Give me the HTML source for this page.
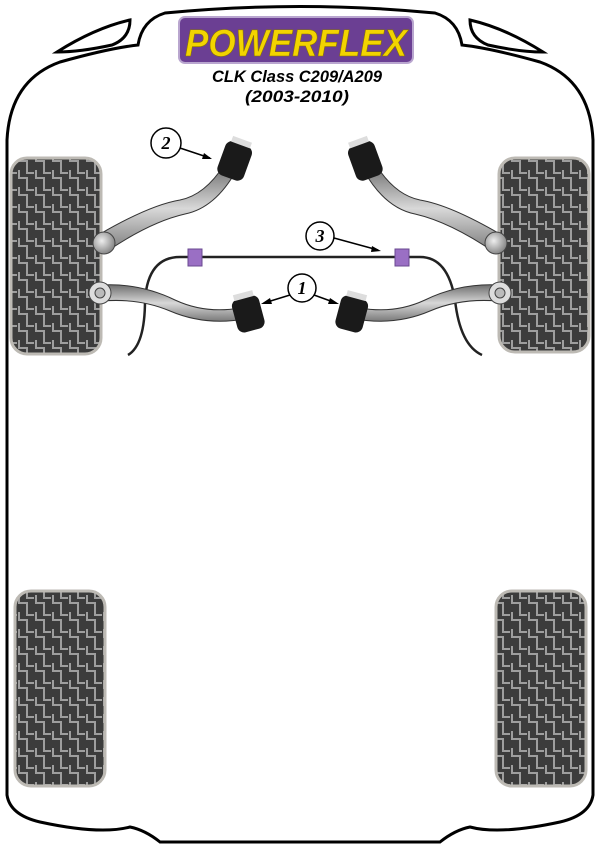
<!DOCTYPE html>
<html><head><meta charset="utf-8"><style>
html,body{margin:0;padding:0;background:#fff;}
svg{display:block;}
</style></head><body>
<svg width="600" height="848" viewBox="0 0 600 848" xmlns="http://www.w3.org/2000/svg">
<defs>
<pattern id="tr" width="17" height="17" patternUnits="userSpaceOnUse">
<rect width="17" height="17" fill="#3c3c3c"/>
<path d="M2,0 V8 H10 V17 M10,0 V3 H17" stroke="#9e9e9e" stroke-width="2" fill="none"/>
</pattern>
<linearGradient id="arm" x1="0" y1="0" x2="0" y2="1">
<stop offset="0" stop-color="#6e6e6e"/><stop offset="0.5" stop-color="#d8d8d8"/><stop offset="1" stop-color="#7a7a7a"/>
</linearGradient>
<radialGradient id="ball" cx="0.4" cy="0.4" r="0.7">
<stop offset="0" stop-color="#eee"/><stop offset="1" stop-color="#777"/>
</radialGradient>
</defs>

<!-- body -->
<path d="M7,795 L7,140 Q10,80 60,62 Q110,48 138,45 Q142,20 165,13 Q300,0 435,13 Q458,20 462,45 Q490,48 540,62 Q590,80 593,140 L593,795 Q590,815 560,822 Q500,835 470,827 Q455,830 440,842 L160,842 Q145,830 130,827 Q100,835 40,822 Q10,815 7,795 Z" fill="#fff" stroke="#000" stroke-width="3"/>
<path d="M57,52 Q95,28 130,20 Q130,38 112,45 Q80,52 57,52 Z" fill="#fff" stroke="#000" stroke-width="3"/>
<path d="M543,52 Q505,28 470,20 Q470,38 488,45 Q520,52 543,52 Z" fill="#fff" stroke="#000" stroke-width="3"/>

<!-- tires -->
<rect x="11" y="158" width="90" height="196" rx="16" fill="url(#tr)" stroke="#bdbab4" stroke-width="3"/>
<rect x="499" y="158" width="90" height="194" rx="16" fill="url(#tr)" stroke="#bdbab4" stroke-width="3"/>
<rect x="15" y="591" width="90" height="195" rx="16" fill="url(#tr)" stroke="#bdbab4" stroke-width="3"/>
<rect x="496" y="591" width="90" height="195" rx="16" fill="url(#tr)" stroke="#bdbab4" stroke-width="3"/>

<!-- sway bar -->
<path d="M128,355 Q145,345 145,300 Q148,257 180,257 L420,257 Q448,257 455,300 Q460,345 482,355" fill="none" stroke="#222" stroke-width="2.5"/>
<rect x="188" y="249" width="14" height="17" fill="#9a6fc4" stroke="#6a4a90"/>
<rect x="395" y="249" width="14" height="17" fill="#9a6fc4" stroke="#6a4a90"/>

<!-- upper arms -->
<path d="M100,234 Q150,205 180,200 Q205,195 224,165 L236,171 Q215,208 185,214 Q150,222 106,252 Z" fill="url(#arm)" stroke="#333" stroke-width="1"/>
<circle cx="104" cy="243" r="11" fill="url(#ball)" stroke="#444"/>
<g transform="rotate(20 235 160)"><rect x="221" y="143" width="28" height="36" rx="7" fill="#1a1a1a"/><rect x="225" y="138" width="20" height="6" fill="#ddd"/></g>
<path d="M500,234 Q450,205 420,200 Q395,195 376,165 L364,171 Q385,208 415,214 Q450,222 494,252 Z" fill="url(#arm)" stroke="#333" stroke-width="1"/>
<circle cx="496" cy="243" r="11" fill="url(#ball)" stroke="#444"/>
<g transform="rotate(-20 365 160)"><rect x="351" y="143" width="28" height="36" rx="7" fill="#1a1a1a"/><rect x="355" y="138" width="20" height="6" fill="#ddd"/></g>

<!-- lower arms -->
<path d="M102,285 Q140,283 175,300 Q205,314 240,308 L245,319 Q205,326 170,311 Q140,298 102,301 Z" fill="url(#arm)" stroke="#333" stroke-width="1"/>
<circle cx="100" cy="293" r="11" fill="#ddd" stroke="#444"/><circle cx="100" cy="293" r="5" fill="#bbb" stroke="#444"/>
<g transform="rotate(-15 248 313)"><rect x="234" y="297" width="28" height="34" rx="7" fill="#1a1a1a"/><rect x="238" y="292" width="20" height="6" fill="#ddd"/></g>
<path d="M498,285 Q460,283 425,300 Q395,314 360,308 L355,319 Q395,326 430,311 Q460,298 498,301 Z" fill="url(#arm)" stroke="#333" stroke-width="1"/>
<circle cx="500" cy="293" r="11" fill="#ddd" stroke="#444"/><circle cx="500" cy="293" r="5" fill="#bbb" stroke="#444"/>
<g transform="rotate(15 352 313)"><rect x="338" y="297" width="28" height="34" rx="7" fill="#1a1a1a"/><rect x="342" y="292" width="20" height="6" fill="#ddd"/></g>

<!-- callouts -->
<g stroke="#000" stroke-width="1.5" fill="#fff">
<line x1="180" y1="148" x2="210" y2="158"/><line x1="334" y1="238" x2="378" y2="250"/>
<line x1="290" y1="295" x2="264" y2="303"/><line x1="314" y1="295" x2="336" y2="303"/>
<circle cx="166" cy="143" r="15"/><circle cx="320" cy="236" r="14"/><circle cx="302" cy="288" r="14"/>
</g>
<g fill="#000"><path d="M212,159 l-8,-6 l-2,6 z"/><path d="M381,251 l-9,-5 l-1,6 z"/><path d="M261,304 l9,-6 l2,6 z"/><path d="M339,304 l-9,-6 l-2,6 z"/></g>
<g font-family="Liberation Serif, serif" font-weight="bold" font-style="italic" font-size="18" text-anchor="middle">
<text x="166" y="149">2</text><text x="320" y="242">3</text><text x="302" y="294">1</text></g>

<!-- logo -->
<rect x="179" y="17" width="234" height="46" rx="6" fill="#6b3f93" stroke="#b9a6cf" stroke-width="2"/>
<text x="296" y="56" text-anchor="middle" font-family="Liberation Sans, sans-serif" font-weight="bold" font-style="italic" font-size="38" fill="#f2d400" stroke="#8a7400" stroke-width="0.6" textLength="222" lengthAdjust="spacingAndGlyphs">POWERFLEX</text>
<text x="297" y="82" text-anchor="middle" font-family="Liberation Sans, sans-serif" font-weight="bold" font-style="italic" font-size="17" textLength="170" lengthAdjust="spacingAndGlyphs">CLK Class C209/A209</text>
<text x="297" y="102" text-anchor="middle" font-family="Liberation Sans, sans-serif" font-weight="bold" font-style="italic" font-size="17" textLength="104" lengthAdjust="spacingAndGlyphs">(2003-2010)</text>
</svg>
</body></html>
